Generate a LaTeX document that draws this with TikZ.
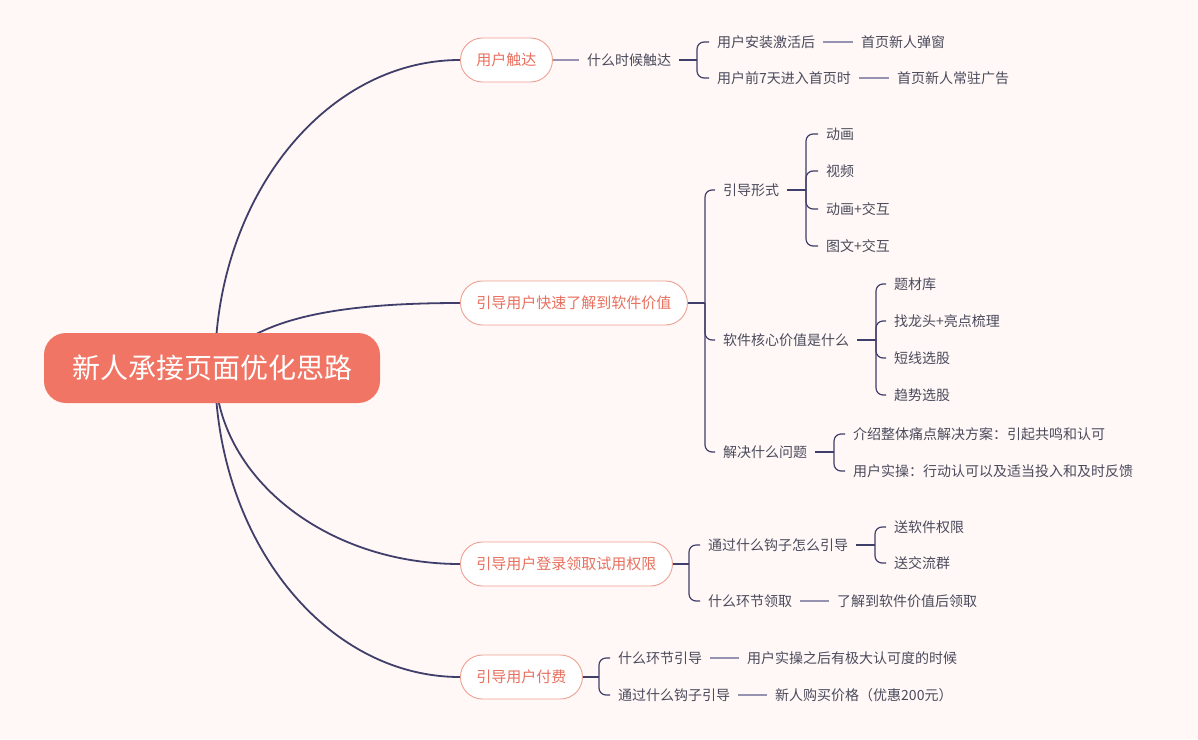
\documentclass[tikz,border=0pt]{standalone}
\usepackage{fontspec}
\setmainfont{Noto Sans CJK SC}
\usetikzlibrary{positioning, backgrounds}
\usepackage{xcolor}
\definecolor{BG}{RGB}{255,248,246}
\definecolor{RT}{RGB}{241,117,100}
\definecolor{BR}{RGB}{238,160,146}
\definecolor{BT}{RGB}{232,112,94}
\definecolor{LN}{RGB}{64,62,106}
\definecolor{LL}{RGB}{150,146,178}
\definecolor{TX}{RGB}{74,74,92}

\begin{document}
\begin{tikzpicture}[
  x=1pt, y=-1pt,
  root/.style={fill=RT, rounded corners=22pt, minimum width=336pt,
               minimum height=70pt, text=white,
               font=\fontsize{28}{34}\selectfont},
  branch/.style={draw=BR, line width=0.9pt, fill=white, rounded corners=22pt,
                 minimum height=44pt, inner xsep=16pt, anchor=west,
                 text=BT, font=\fontsize{15}{18}\selectfont},
  leaf/.style={anchor=west, inner xsep=8pt, inner ysep=2pt, text=TX,
               font=\fontsize{14}{17}\selectfont},
  trunk/.style={draw=LN, line width=1.8pt},
  stem/.style={draw=LN, line width=1.8pt},
  fork/.style={draw=LN, line width=1.2pt, rounded corners=7pt},
  link/.style={draw=LL, line width=1.2pt}
]
\useasboundingbox (0,0) rectangle (1198,739);

% centre and main topics
\node[root] (root) at (212,368) {新人承接页面优化思路};
\coordinate (hub) at (215,368);
\node[branch] (reach) at (460,60)  {用户触达};
\node[branch] (value) at (460,303) {引导用户快速了解到软件价值};
\node[branch] (trial) at (460,564) {引导用户登录领取试用权限};
\node[branch] (pay)   at (460,677) {引导用户付费};

% branch 1
\node[leaf] (when)   at (579,60)  {什么时候触达};
\node[leaf] (inst)   at (709,42)  {用户安装激活后};
\node[leaf] (seven)  at (709,78)  {用户前7天进入首页时};
\node[leaf] (popup)  at (853,42)  {首页新人弹窗};
\node[leaf] (banner) at (889,78)  {首页新人常驻广告};
\coordinate (fwhen)  at (697,60);

% branch 2
\node[leaf] (form)  at (715,190) {引导形式};
\node[leaf] (core)  at (715,340) {软件核心价值是什么};
\node[leaf] (solve) at (715,452) {解决什么问题};
\coordinate (fvalue) at (705,303);

\node[leaf] (anim)   at (818,134) {动画};
\node[leaf] (video)  at (818,171) {视频};
\node[leaf] (animix) at (818,209) {动画+交互};
\node[leaf] (picix)  at (818,246) {图文+交互};
\coordinate (fform) at (806,190);

\node[leaf] (theme)  at (886,284) {题材库};
\node[leaf] (leader) at (886,321) {找龙头+亮点梳理};
\node[leaf] (short)  at (886,358) {短线选股};
\node[leaf] (trend)  at (886,395) {趋势选股};
\coordinate (fcore) at (876,340);

\node[leaf] (pain) at (845,434) {介绍整体痛点解决方案：引起共鸣和认可};
\node[leaf] (act)  at (845,471) {用户实操：行动认可以及适当投入和及时反馈};
\coordinate (fsolve) at (834,452);

% branch 3
\node[leaf] (hook)  at (700,545) {通过什么钩子怎么引导};
\node[leaf] (step3) at (700,601) {什么环节领取};
\coordinate (ftrial) at (689,564);
\node[leaf] (perm)  at (886,527) {送软件权限};
\node[leaf] (group) at (886,563) {送交流群};
\coordinate (fhook) at (875,545);
\node[leaf] (after) at (829,601) {了解到软件价值后领取};

% branch 4
\node[leaf] (step4) at (610,658) {什么环节引导};
\node[leaf] (hook4) at (610,695) {通过什么钩子引导};
\coordinate (fpay) at (599,677);
\node[leaf] (moment) at (739,658) {用户实操之后有极大认可度的时候};
\node[leaf] (price)  at (767,695) {新人购买价格（优惠200元）};

\begin{scope}[on background layer]
  \fill[BG] (0,0) rectangle (1198,739);
  \draw[trunk] (hub) .. controls (215,198) and (325,60) .. (reach.west);
  \draw[trunk] (hub) .. controls (250,320) and (330,303) .. (value.west);
  \draw[trunk] (hub) .. controls (215,476) and (325,564) .. (trial.west);
  \draw[trunk] (hub) .. controls (215,539) and (325,677) .. (pay.west);
\end{scope}

% connectors
\draw[link, line width=1.6pt] (reach.east) -- (when.west);
\draw[stem] (when.east) -- (fwhen);
\draw[fork] (fwhen) |- (inst.west);
\draw[fork] (fwhen) |- (seven.west);
\draw[link] (inst.east) -- (popup.west);
\draw[link] (seven.east) -- (banner.west);

\draw[stem] (value.east) -- (fvalue);
\draw[fork] (fvalue) |- (form.west);
\draw[fork] (fvalue) |- (core.west);
\draw[fork] (fvalue) |- (solve.west);
\draw[stem] (form.east) -- (fform);
\draw[fork] (fform) |- (anim.west);
\draw[fork] (fform) |- (video.west);
\draw[fork] (fform) |- (animix.west);
\draw[fork] (fform) |- (picix.west);
\draw[stem] (core.east) -- (fcore);
\draw[fork] (fcore) |- (theme.west);
\draw[fork] (fcore) |- (leader.west);
\draw[fork] (fcore) |- (short.west);
\draw[fork] (fcore) |- (trend.west);
\draw[stem] (solve.east) -- (fsolve);
\draw[fork] (fsolve) |- (pain.west);
\draw[fork] (fsolve) |- (act.west);

\draw[stem] (trial.east) -- (ftrial);
\draw[fork] (ftrial) |- (hook.west);
\draw[fork] (ftrial) |- (step3.west);
\draw[stem] (hook.east) -- (fhook);
\draw[fork] (fhook) |- (perm.west);
\draw[fork] (fhook) |- (group.west);
\draw[link] (step3.east) -- (after.west);

\draw[stem] (pay.east) -- (fpay);
\draw[fork] (fpay) |- (step4.west);
\draw[fork] (fpay) |- (hook4.west);
\draw[link] (step4.east) -- (moment.west);
\draw[link] (hook4.east) -- (price.west);
\end{tikzpicture}
\end{document}
